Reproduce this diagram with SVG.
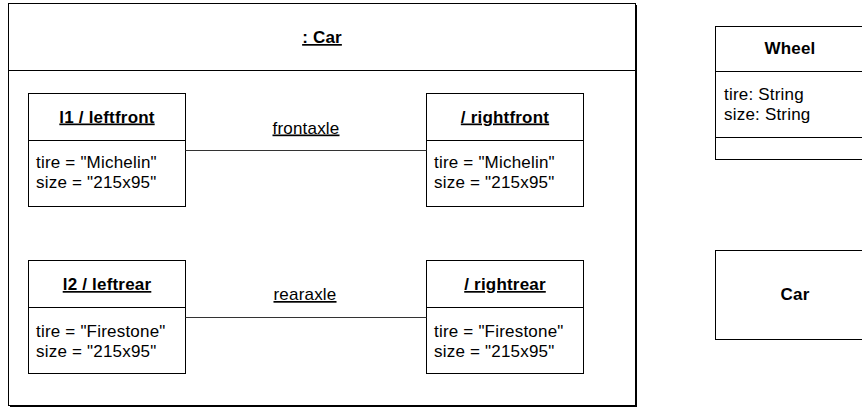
<svg xmlns="http://www.w3.org/2000/svg" width="862" height="410" viewBox="0 0 862 410">
<style>
.box{fill:#fff;stroke:#000;stroke-width:1}
.div{stroke:#000;stroke-width:1}
.conn{stroke:#333;stroke-width:1;fill:none}
text{font-family:"Liberation Sans",Arial,sans-serif;font-size:17px;fill:#000;letter-spacing:0.2px}
.t{font-weight:bold;text-anchor:middle}
.u{text-decoration:underline}
.c{text-anchor:middle}
</style>
<rect width="862" height="410" fill="#fff"/>
<g id="car-instance">
<rect x="10" y="5" width="627" height="402" fill="#000"/>
<rect class="box" x="8.5" y="3.5" width="627" height="402"/>
<line class="div" x1="8.5" y1="70.5" x2="635.5" y2="70.5"/>
<text class="t u" x="322" y="43">: Car</text>
</g>
<g id="leftfront">
<rect class="box" x="28.5" y="93.5" width="157" height="113"/>
<line class="div" x1="28.5" y1="140.5" x2="185.5" y2="140.5"/>
<text class="t u" x="107" y="122.5">l1 / leftfront</text>
<text x="36" y="167.5">tire = "Michelin"</text>
<text x="36" y="187.5">size = "215x95"</text>
</g>
<g id="rightfront">
<rect class="box" x="426.5" y="93.5" width="157" height="113"/>
<line class="div" x1="426.5" y1="140.5" x2="583.5" y2="140.5"/>
<text class="t u" x="505" y="122.5">/ rightfront</text>
<text x="434" y="167.5">tire = "Michelin"</text>
<text x="434" y="187.5">size = "215x95"</text>
</g>
<g id="leftrear">
<rect class="box" x="28.5" y="260.5" width="157" height="113"/>
<line class="div" x1="28.5" y1="307.5" x2="185.5" y2="307.5"/>
<text class="t u" x="107" y="290">l2 / leftrear</text>
<text x="36" y="336.5">tire = "Firestone"</text>
<text x="36" y="356.5">size = "215x95"</text>
</g>
<g id="rightrear">
<rect class="box" x="426.5" y="260.5" width="157" height="113"/>
<line class="div" x1="426.5" y1="307.5" x2="583.5" y2="307.5"/>
<text class="t u" x="505" y="290">/ rightrear</text>
<text x="434" y="336.5">tire = "Firestone"</text>
<text x="434" y="356.5">size = "215x95"</text>
</g>
<g id="wheel-class">
<rect class="box" x="715.5" y="26.5" width="160" height="133"/>
<line class="div" x1="715.5" y1="71.5" x2="875.5" y2="71.5"/>
<line class="div" x1="715.5" y1="137.5" x2="875.5" y2="137.5"/>
<text class="t" x="790" y="54">Wheel</text>
<text x="724" y="100">tire: String</text>
<text x="724" y="120">size: String</text>
</g>
<g id="car-class">
<rect class="box" x="715.5" y="250.5" width="160" height="89"/>
<text class="t" x="795" y="300">Car</text>
</g>
<g id="connectors">
<line class="conn" x1="185.5" y1="150.5" x2="426.5" y2="150.5"/>
<line class="conn" x1="185.5" y1="317.5" x2="426.5" y2="317.5"/>
<text class="c u" x="306" y="133.5">frontaxle</text>
<text class="c u" x="305" y="300">rearaxle</text>
</g>
</svg>
